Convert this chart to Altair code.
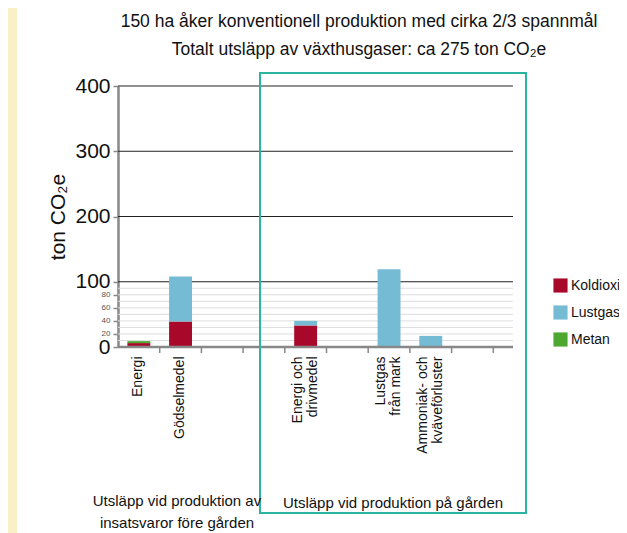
import altair as alt
import pandas as pd

FONT = "Liberation Sans"

# categories (band slots on the x axis); blank slots use distinct whitespace
categories = ["Energi", "Gödselmedel", " ", "  ", "Energi och\ndrivmedel", "   ",
              "Lustgas\nfrån mark", "Ammoniak- och\nkväveförluster", "    ", "     "]
gases = ["Koldioxid", "Lustgas", "Metan"]
gas_colors = ["#A8092A", "#76BBD4", "#4EA72E"]

koldioxid = [6, 39, 0, 0, 33, 0, 0, 0, 0, 0]
lustgas = [0, 69, 0, 0, 7, 0, 119, 17, 0, 0]
metan = [3, 0, 0, 0, 0, 0, 0, 0, 0, 0]

major_grid = [100, 200, 300, 400]
minor_grid = [10, 20, 30, 40, 50, 60, 70, 80, 90]
y_ticks = [0, 20, 40, 60, 80, 100, 200, 300, 400]

title_lines = ["150 ha åker konventionell produktion med cirka 2/3 spannmål",
               "Totalt utsläpp av växthusgaser: ca 275 ton CO\u2082e"]
group_left = ["Utsläpp vid produktion av", "insatsvaror före gården"]
group_right = ["Utsläpp vid produktion på gården"]

rows = []
for i, c in enumerate(categories):
    for g, vals in zip(gases, [koldioxid, lustgas, metan]):
        rows.append({"cat": c, "gas": g, "value": vals[i], "ord": gases.index(g)})
df = pd.DataFrame(rows)

W, H = 417, 261

xscale = alt.Scale(domain=categories, paddingInner=0, paddingOuter=0)
yscale = alt.Scale(domain=[0, 400], nice=False)

multi = "indexof(datum.label, '\\n') >= 0"
x_axis = alt.Axis(title=None, domain=False, ticks=False, labelAngle=270,
                  labelAlign="right", labelBaseline="middle", labelPadding=9,
                  labelFontSize=14, labelColor="#111", labelFont=FONT,
                  labelLineHeight=15,
                  labelOffset={"condition": {"test": multi, "value": -8}, "value": -1},
                  labelExpr="split(datum.label, '\\n')", labelLimit=200)

big = "datum.value >= 100 || datum.value == 0"
y_axis = alt.Axis(title="ton CO\u2082e", titleFontSize=21, titleFontWeight="normal",
                  titleColor="#111", titlePadding=6, titleFont=FONT,
                  values=y_ticks, grid=False, domainColor="#888", domainWidth=2.5,
                  tickColor="#888", tickSize=5, tickWidth=1.5,
                  labelFontSize={"condition": {"test": big, "value": 21}, "value": 8},
                  labelColor={"condition": {"test": big, "value": "#111"}, "value": "#555"},
                  labelPadding=3, labelOverlap=False, labelFlush=False, labelFont=FONT)

# beige strip at left edge
strip = alt.Chart(pd.DataFrame({"a": [0]})).mark_rect(color="#FAF0C8").encode(
    x=alt.value(-110), x2=alt.value(-101), y=alt.value(-78), y2=alt.value(447))

minor = alt.Chart(pd.DataFrame({"v": minor_grid})).mark_rule(color="#DDDDDD", strokeWidth=1).encode(
    y=alt.Y("v:Q", scale=yscale, axis=y_axis), x=alt.value(0), x2=alt.value(395))
major = alt.Chart(pd.DataFrame({"v": major_grid})).mark_rule(color="#222222", strokeWidth=1).encode(
    y=alt.Y("v:Q", scale=yscale, axis=y_axis), x=alt.value(0), x2=alt.value(395))

bars = alt.Chart(df).mark_bar(width={"band": 0.55}).encode(
    x=alt.X("cat:N", scale=xscale, axis=x_axis, sort=categories),
    y=alt.Y("value:Q", stack="zero", scale=yscale, axis=y_axis),
    color=alt.Color("gas:N", scale=alt.Scale(domain=gases, range=gas_colors),
                    legend=alt.Legend(title=None, orient="none", legendX=435, legendY=192,
                                      symbolType="square", symbolSize=200, symbolStrokeWidth=0,
                                      labelFontSize=14, labelColor="#111", labelFont=FONT,
                                      rowPadding=12, labelOffset=3)),
    order=alt.Order("ord:Q"),
)

baseline = alt.Chart(pd.DataFrame({"v": [0]})).mark_rule(color="#888", strokeWidth=2.5).encode(
    y=alt.Y("v:Q", scale=yscale, axis=y_axis), x=alt.value(0), x2=alt.value(395))

xticks = alt.Chart(pd.DataFrame({"cat": categories[1:]})).mark_rule(color="#888", strokeWidth=1.5).encode(
    x=alt.X("cat:N", bandPosition=0, scale=xscale, axis=x_axis), y=alt.value(H), y2=alt.value(H + 6))

box = alt.Chart(pd.DataFrame({"a": [0]})).mark_rect(fill=None, stroke="#2BB5A0", strokeWidth=2).encode(
    x=alt.value(142), x2=alt.value(408), y=alt.value(-13), y2=alt.value(427))

titles = alt.Chart(pd.DataFrame({"t": title_lines, "yy": [-64, -36]})).mark_text(
    fontSize=17.5, font=FONT, color="#111", baseline="middle").encode(
    text="t:N", x=alt.value(241), y=alt.Y("yy:Q", scale=None))

gl = alt.Chart(pd.DataFrame({"t": group_left, "yy": [415, 437]})).mark_text(
    fontSize=15, font=FONT, color="#111", baseline="middle").encode(
    text="t:N", x=alt.value(59), y=alt.Y("yy:Q", scale=None))
gr = alt.Chart(pd.DataFrame({"t": group_right, "yy": [417]})).mark_text(
    fontSize=15, font=FONT, color="#111", baseline="middle").encode(
    text="t:N", x=alt.value(275), y=alt.Y("yy:Q", scale=None))

chart = alt.layer(strip, minor, major, bars, baseline, xticks, box, titles, gl, gr).properties(
    width=W, height=H,
    autosize=alt.AutoSizeParams(type="none"),
    padding={"left": 110, "top": 78, "right": 84, "bottom": 186},
).configure(font=FONT, view=alt.ViewConfig(stroke=None))

chart.save("out.html", embed_options={"renderer": "svg", "actions": False})
